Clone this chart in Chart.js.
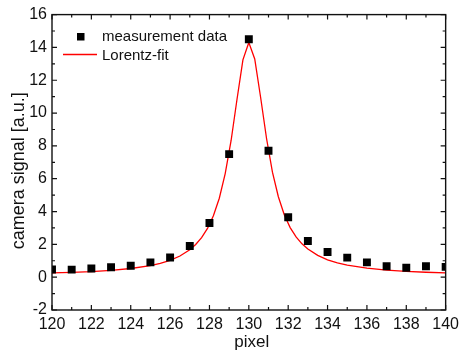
<!DOCTYPE html>
<html>
<head>
<meta charset="utf-8">
<script src="https://cdn.jsdelivr.net/npm/chart.js@4/dist/chart.umd.min.js"></script>
<style>
  html, body { margin: 0; padding: 0; background: #fff; }
  #wrap { width: 464px; height: 358px; }
</style>
</head>
<body>
<div id="wrap"><canvas id="c" width="464" height="358"></canvas></div>
<script>
// Measured camera signal per pixel
const measX = [120, 121, 122, 123, 124, 125, 126, 127, 128, 129, 130,
               131, 132, 133, 134, 135, 136, 137, 138, 139, 140];
const measY = [0.47, 0.46, 0.53, 0.60, 0.70, 0.90, 1.20, 1.90, 3.30, 7.50, 14.50,
               7.70, 3.65, 2.20, 1.53, 1.19, 0.90, 0.67, 0.57, 0.67, 0.63];

// Lorentz fit curve samples
const fitX = [120, 121, 122, 123, 124, 125, 125.5, 126, 126.5, 127, 127.3, 127.6, 127.9,
              128.2, 128.5, 128.8, 129.1, 129.4, 129.7, 130, 130.3, 130.6, 130.9,
              131.2, 131.5, 131.8, 132.1, 132.4, 132.7, 133, 133.5, 134, 134.5,
              135, 136, 137, 138, 139, 140];
const fitY = [0.26, 0.29, 0.34, 0.42, 0.53, 0.71, 0.84, 1.03, 1.29, 1.67, 1.99, 2.41, 2.97,
              3.74, 4.81, 6.31, 8.33, 10.84, 13.24, 14.30, 13.30, 10.95, 8.45,
              6.40, 4.90, 3.80, 3.02, 2.45, 2.03, 1.72, 1.33, 1.06, 0.87,
              0.73, 0.55, 0.43, 0.35, 0.30, 0.26];

// Axis ranges, labelled ticks and axis titles
const xMin = 120, xMax = 140;
const yMin = -2, yMax = 16;
const xTickLabels = [120, 122, 124, 126, 128, 130, 132, 134, 136, 138, 140];
const yTickLabels = [-2, 0, 2, 4, 6, 8, 10, 12, 14, 16];
const xTitle = 'pixel';
const yTitle = 'camera signal [a.u.]';

const FONT = "'Liberation Sans', Arial, sans-serif";
const INK = '#111';

// Frame, inward tick marks, axis titles and in-plot legend
const framePlugin = {
  id: 'frame',
  afterDatasetsDraw(chart) {
    const { ctx, chartArea: a, scales } = chart;
    const xs = scales.x, ys = scales.y;
    ctx.save();
    ctx.strokeStyle = INK;
    ctx.lineWidth = 1.4;
    ctx.strokeRect(a.left, a.top, a.right - a.left, a.bottom - a.top);

    ctx.lineWidth = 1.2;
    ctx.beginPath();
    for (let v = xMin; v <= xMax; v += 1) {
      const px = xs.getPixelForValue(v);
      const len = (v % 2 === 0) ? 5 : 3;
      ctx.moveTo(px, a.bottom); ctx.lineTo(px, a.bottom - len);
      ctx.moveTo(px, a.top); ctx.lineTo(px, a.top + len);
    }
    for (let v = yMin; v <= yMax; v += 1) {
      const py = ys.getPixelForValue(v);
      const len = (v % 2 === 0) ? 5 : 3;
      ctx.moveTo(a.left, py); ctx.lineTo(a.left + len, py);
      ctx.moveTo(a.right, py); ctx.lineTo(a.right - len, py);
    }
    ctx.stroke();

    // axis titles
    ctx.fillStyle = INK;
    ctx.textAlign = 'center';
    ctx.textBaseline = 'alphabetic';
    ctx.font = '17px ' + FONT;
    ctx.fillText(xTitle, (a.left + a.right) / 2 + 3, 347);
    ctx.save();
    ctx.font = '18px ' + FONT;
    ctx.translate(24, (a.top + a.bottom) / 2 + 8.5);
    ctx.rotate(-Math.PI / 2);
    ctx.fillText(yTitle, 0, 0);
    ctx.restore();

    // legend
    const ds = chart.data.datasets;
    ctx.font = '15px ' + FONT;
    ctx.textBaseline = 'middle';
    ctx.textAlign = 'left';
    const tx = 102;
    ctx.fillStyle = '#000';
    ctx.fillRect(77, 33, 7.5, 7.5);
    ctx.fillStyle = INK;
    ctx.fillText(ds[0].label, tx, 37);
    ctx.strokeStyle = '#ff0000';
    ctx.lineWidth = 1.3;
    ctx.beginPath();
    ctx.moveTo(63, 54.5); ctx.lineTo(97, 54.5);
    ctx.stroke();
    ctx.fillText(ds[1].label, tx, 56);
    ctx.restore();
  }
};

new Chart(document.getElementById('c'), {
  type: 'scatter',
  data: {
    datasets: [
      {
        label: 'measurement data',
        data: measX.map((x, i) => ({ x, y: measY[i] })),
        pointStyle: 'rect',
        pointRadius: 5.6,
        pointBorderWidth: 0,
        backgroundColor: '#000',
        borderColor: '#000',
        showLine: false
      },
      {
        label: 'Lorentz-fit',
        data: fitX.map((x, i) => ({ x, y: fitY[i] })),
        showLine: true,
        pointRadius: 0,
        borderColor: '#ff0000',
        backgroundColor: '#ff0000',
        borderWidth: 1.3,
        tension: 0
      }
    ]
  },
  options: {
    responsive: false,
    animation: false,
    devicePixelRatio: 1,
    layout: { padding: { top: 13, right: 13, left: 0, bottom: 0 } },
    plugins: { legend: { display: false }, tooltip: { enabled: false } },
    scales: {
      x: {
        type: 'linear',
        min: xMin, max: xMax,
        grid: { display: false, drawTicks: false },
        border: { display: false },
        afterBuildTicks(scale) { scale.ticks = xTickLabels.map(v => ({ value: v })); },
        afterFit(scale) { scale.height = 48; },
        ticks: {
          padding: 5, color: INK, maxRotation: 0, autoSkip: false,
          font: { family: FONT, size: 16 },
          callback: v => String(v)
        },
        title: { display: false }
      },
      y: {
        type: 'linear',
        min: yMin, max: yMax,
        grid: { display: false, drawTicks: false },
        border: { display: false },
        afterBuildTicks(scale) { scale.ticks = yTickLabels.map(v => ({ value: v })); },
        afterFit(scale) { scale.width = 52; },
        ticks: {
          padding: 5, color: INK, autoSkip: false,
          font: { family: FONT, size: 16 },
          callback: v => String(v)
        },
        title: { display: false }
      }
    }
  },
  plugins: [framePlugin]
});
</script>
</body>
</html>
